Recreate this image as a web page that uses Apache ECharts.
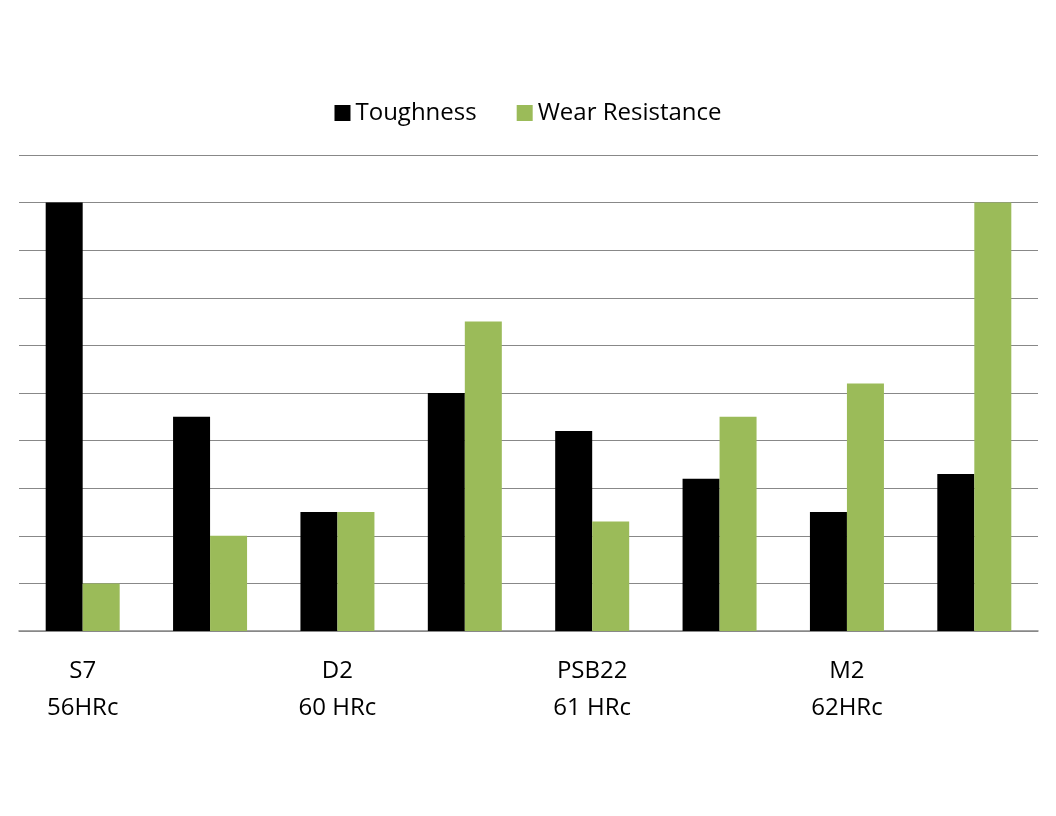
<!DOCTYPE html>
<html><head><meta charset="utf-8">
<script src="https://cdn.jsdelivr.net/npm/echarts@6/dist/echarts.min.js"></script>
<style>html,body{margin:0;padding:0;background:#fff}#c{width:1056px;height:816px}</style>
</head><body><div id="c"></div>
<script>
const categories=['S7\n56HRc','A2\n60HRc','D2\n60 HRc','PSB27\n61 HRc','PSB22\n61 HRc','SB WEAR\n61 HRc','M2\n62HRc','PMA11\n60 HRc'];
const toughness=[9,4.5,2.5,5,4.2,3.2,2.5,3.3];
const wear=[1,2,2.5,6.5,2.3,4.5,5.2,9];
const chart=echarts.init(document.getElementById('c'));
chart.setOption({
  animation:false,
  textStyle:{fontFamily:'Open Sans, Calibri, sans-serif'},
  legend:{top:96,itemWidth:16,itemHeight:16,itemGap:40,icon:'rect',textStyle:{fontSize:24,color:'#000',fontFamily:'Open Sans'},data:['Toughness','Wear Resistance']},
  grid:{left:19,right:18,top:155,bottom:185,containLabel:false},
  xAxis:{type:'category',data:categories,axisLine:{lineStyle:{color:'#888',width:1.5}},axisTick:{length:8,lineStyle:{color:'#888'}},
    axisLabel:{fontSize:24,color:'#000',lineHeight:37,margin:22,fontFamily:'Open Sans'}},
  yAxis:{type:'value',min:0,max:10,interval:1,axisLabel:{show:false},axisLine:{show:false},axisTick:{show:false},splitLine:{lineStyle:{color:'#888',width:1.2}}},
  series:[
    {name:'Toughness',type:'bar',data:toughness,barWidth:37,barGap:'0%',itemStyle:{color:'#000'}},
    {name:'Wear Resistance',type:'bar',data:wear,barWidth:37,itemStyle:{color:'#9BBB59'}}
  ]
});
</script></body></html>
